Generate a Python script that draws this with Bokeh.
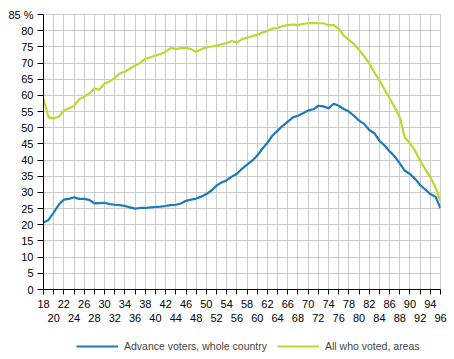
from bokeh.plotting import figure
from bokeh.layouts import column
from bokeh.models import (Range1d, FixedTicker, LinearAxis, Legend, LegendItem, Grid)
from bokeh.embed import file_html
from bokeh.resources import INLINE

ages = list(range(18, 97))
advance_whole_country = [
    20.7, 21.5, 23.8, 26.2, 27.8, 28.0, 28.5, 28.0, 28.0, 27.7,
    26.6, 26.7, 26.8, 26.4, 26.2, 26.1, 25.8, 25.4, 25.0, 25.2,
    25.2, 25.4, 25.5, 25.6, 25.8, 26.1, 26.2, 26.6, 27.4, 27.8,
    28.1, 28.7, 29.5, 30.6, 32.1, 33.1, 33.8, 34.9, 35.8, 37.3,
    38.6, 39.8, 41.4, 43.5, 45.4, 47.6, 49.1, 50.6, 51.9, 53.2,
    53.7, 54.5, 55.3, 55.7, 56.8, 56.6, 56.0, 57.4, 56.8, 55.8,
    55.0, 53.7, 52.2, 51.2, 49.3, 48.3, 46.0, 44.5, 42.7, 41.1,
    39.0, 36.7, 35.7, 34.2, 32.3, 30.9, 29.5, 28.7, 25.2,
]
all_voted_areas = [
    58.9, 53.2, 52.9, 53.4, 55.3, 56.0, 56.7, 58.8, 59.6, 60.6,
    62.1, 61.8, 63.7, 64.3, 65.4, 66.8, 67.3, 68.3, 69.2, 70.1,
    71.3, 71.8, 72.3, 72.8, 73.5, 74.7, 74.3, 74.6, 74.7, 74.3,
    73.5, 74.3, 74.8, 75.1, 75.3, 75.8, 76.2, 76.8, 76.3, 77.4,
    77.8, 78.3, 78.7, 79.4, 79.9, 80.7, 80.8, 81.4, 81.7, 81.9,
    81.7, 82.1, 82.3, 82.4, 82.3, 82.3, 81.7, 81.7, 80.6, 78.5,
    77.2, 75.9, 74.1, 72.1, 69.9, 67.1, 64.6, 61.8, 59.2, 56.3,
    53.2, 47.0, 45.2, 42.9, 39.8, 37.2, 34.7, 31.6, 27.4,
]
x_ticks = list(range(18, 97, 2))
x_ticks_row1 = list(range(18, 97, 4))
x_ticks_row2 = list(range(20, 97, 4))
y_ticks = list(range(0, 86, 5))
series_names = ["Advance voters, whole country", "All who voted, areas"]

BLUE = "#1a7abb"
GREEN = "#c0d72f"
FONT = "Liberation Sans"

p = figure(width=454, height=330, output_backend="svg",
           toolbar_location=None, x_range=Range1d(18, 96), y_range=Range1d(0, 85),
           min_border_left=43, min_border_right=14, min_border_top=14, min_border_bottom=41,
           x_axis_location=None, y_axis_location=None)
p.outline_line_color = "#cccccc"
p.background_fill_color = "white"
p.border_fill_color = "white"

# axes
yax = LinearAxis(ticker=FixedTicker(ticks=y_ticks))
yax.major_label_overrides = {85: "85 %"}
xax1 = LinearAxis(ticker=FixedTicker(ticks=x_ticks))
xax1.major_label_overrides = {t: (str(t) if t in x_ticks_row1 else "") for t in x_ticks}
xax2 = LinearAxis(ticker=FixedTicker(ticks=x_ticks_row2))
for ax in (yax, xax1, xax2):
    ax.axis_line_color = "black"
    ax.major_tick_line_color = "black"
    ax.minor_tick_line_color = None
    ax.major_tick_in = 0
    ax.major_tick_out = 5
    ax.major_label_text_font = FONT
    ax.major_label_text_font_size = "11px"
    ax.major_label_text_color = "black"
yax.major_tick_out = 6
yax.major_label_standoff = 4
xax1.major_label_standoff = 5
xax2.axis_line_color = None
xax2.major_tick_line_color = None
xax2.major_tick_out = 0
xax2.major_label_standoff = 3
p.add_layout(yax, "left")
p.add_layout(xax1, "below")
p.add_layout(xax2, "below")

# grid
p.xgrid.visible = False
p.ygrid.visible = False
p.add_layout(Grid(dimension=0, ticker=FixedTicker(ticks=x_ticks), grid_line_color="#cccccc"))
p.add_layout(Grid(dimension=1, ticker=FixedTicker(ticks=y_ticks), grid_line_color="#cccccc"))

p.line(ages, advance_whole_country, line_color=BLUE, line_width=2.2)
p.line(ages, all_voted_areas, line_color=GREEN, line_width=2.2)

# legend strip (separate small figure; its lines lie outside its view)
lg = figure(width=454, height=29, output_backend="svg", toolbar_location=None,
            x_range=Range1d(18, 96), y_range=Range1d(1000, 1001),
            min_border_left=0, min_border_right=0, min_border_top=0, min_border_bottom=0,
            x_axis_location=None, y_axis_location=None)
lg.outline_line_color = None
lg.xgrid.visible = False
lg.ygrid.visible = False
l1 = lg.line(ages, advance_whole_country, line_color=BLUE, line_width=2.2)
l2 = lg.line(ages, all_voted_areas, line_color=GREEN, line_width=2.2)
legend = Legend(items=[LegendItem(label=series_names[0], renderers=[l1]),
                       LegendItem(label=series_names[1], renderers=[l2])],
                orientation="horizontal", location=(33, 7),
                border_line_color=None, background_fill_alpha=0,
                glyph_width=42, glyph_height=12, label_height=12,
                label_text_font=FONT, label_text_font_size="10.5px",
                label_standoff=6, spacing=10, margin=0, padding=1)
lg.add_layout(legend, "center")

layout = column(p, lg, spacing=0)
open("out.html", "w").write(file_html(layout, INLINE))
